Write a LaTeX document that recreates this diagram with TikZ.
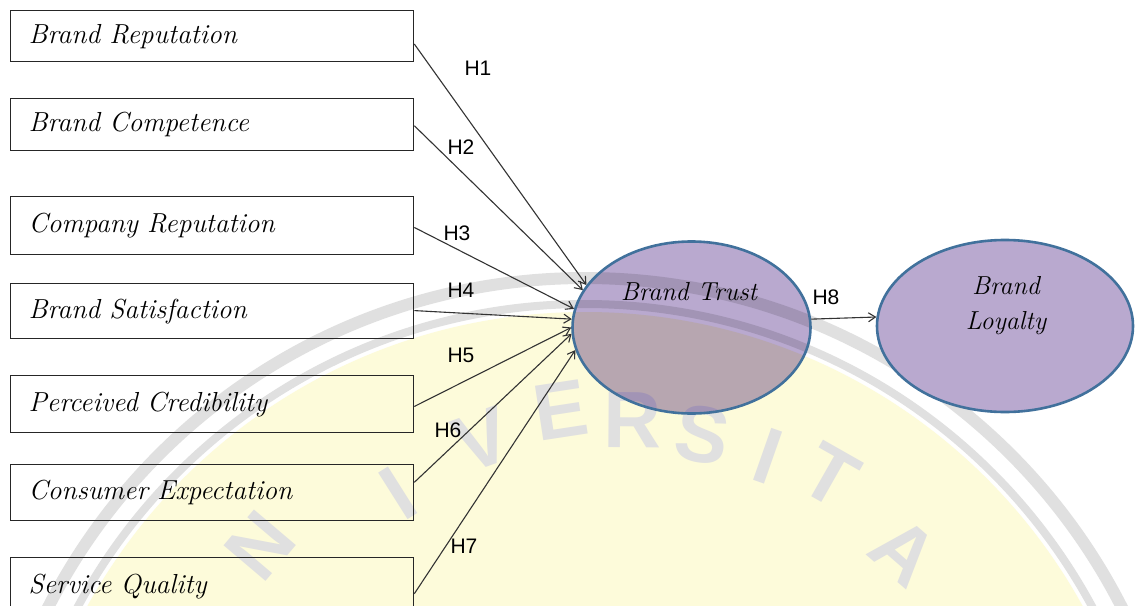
\documentclass[tikz,border=0pt]{standalone}
\usepackage{fontspec}
\newfontfamily\labfont{Liberation Sans}
\usetikzlibrary{shapes.geometric,arrows.meta,calc}
\definecolor{ellfill}{HTML}{B9A9CF}
\definecolor{elldraw}{HTML}{41719C}
\definecolor{wmyellow}{HTML}{FDFBDA}
\definecolor{wmgray}{HTML}{E0E0E0}
\tikzset{
  varbox/.style={draw=black!85, line width=1.3pt, anchor=north west, minimum width=403pt,
    text width=367pt, inner xsep=18pt, inner ysep=0pt, align=left,
    font=\fontsize{27.5}{31}\selectfont\itshape},
  latent/.style={ellipse, draw=elldraw, line width=2.6pt, inner sep=0pt},
  lattext/.style={font=\fontsize{26}{35}\selectfont\itshape, inner sep=0pt, align=center},
  hyp/.style={font=\labfont\fontsize{21}{24}\selectfont, inner sep=0pt},
  hlink/.style={draw=black!80, line width=1.1pt, -{Straight Barb[length=7pt,width=9pt]}},
  wmletter/.style={font=\labfont\bfseries\fontsize{80}{80}\selectfont, text=wmgray, inner sep=0pt},
}
\begin{document}
\begin{tikzpicture}[x=1pt,y=-1pt]
\useasboundingbox (0,0) rectangle (1135,605);
\clip (0,0) rectangle (1135,605);
\fill[white] (0,0) rectangle (1135,605);

% watermark (background)
\fill[wmyellow] (585,880) circle[radius=568];
\draw[wmgray, line width=12pt] (585,880) circle[radius=602];
\draw[wmgray, line width=8pt] (585,880) circle[radius=576];
\node[wmletter, rotate=49.7] (wm1) at (260,546) {N};
\node[wmletter, rotate=32.3] (wm2) at (398,493) {I};
\node[wmletter, rotate=19.8] (wm3) at (482,440) {V};
\node[wmletter, rotate=8.7] (wm4) at (561,410) {E};
\node[wmletter, rotate=-0.4] (wm5) at (633,420) {R};
\node[wmletter, rotate=-9.6] (wm6) at (702,435) {S};
\node[wmletter, rotate=-19.3] (wm7) at (768,456) {I};
\node[wmletter, rotate=-29.6] (wm8) at (830,476) {T};
\node[wmletter, rotate=-41] (wm9) at (904,552) {A};

% boxes
\node[varbox, minimum height=51pt] (b1) at (10,10) {Brand Reputation};
\node[varbox, minimum height=52pt] (b2) at (10,98) {Brand Competence};
\node[varbox, minimum height=58pt] (b3) at (10,196) {Company Reputation};
\node[varbox, minimum height=55pt] (b4) at (10,283) {Brand Satisfaction};
\node[varbox, minimum height=57pt] (b5) at (10,375) {Perceived Credibility};
\node[varbox, minimum height=56pt] (b6) at (10,464) {Consumer Expectation};
\node[varbox, minimum height=58pt] (b7) at (10,557) {Service Quality};

% latent variables
\begin{scope}[blend mode=multiply]
  \fill[ellfill] (691.5,327.5) ellipse[x radius=119, y radius=86];
\end{scope}
\node[latent, minimum width=238pt, minimum height=172pt] (trust) at (691.5,327.5) {};
\node[latent, fill=ellfill, minimum width=256pt, minimum height=172pt] (loyalty) at (1005,326) {};
\node[lattext] (trustlbl) at (689,292) {Brand Trust};
\node[lattext] (loyaltylbl) at (1006,306) {Brand\\Loyalty};

% paths
\draw[hlink] ($(b1.north east)!0.65!(b1.south east)$) -- (trust.158);
\draw[hlink] ($(b2.north east)!0.52!(b2.south east)$) -- (trust.161);
\draw[hlink] ($(b3.north east)!0.53!(b3.south east)$) -- (trust.171);
\draw[hlink] ($(b4.north east)!0.49!(b4.south east)$) -- (trust.176);
\draw[hlink] ($(b5.north east)!0.54!(b5.south east)$) -- (trust.180);
\draw[hlink] ($(b6.north east)!0.32!(b6.south east)$) -- (trust.183);
\draw[hlink] ($(b7.north east)!0.62!(b7.south east)$) -- (trust.191);
\draw[hlink] (trust.4) -- (loyalty.176);

% hypothesis labels
\node[hyp] (h1) at (478,68) {H1};
\node[hyp] (h2) at (461,147) {H2};
\node[hyp] (h3) at (457,233) {H3};
\node[hyp] (h4) at (461,290) {H4};
\node[hyp] (h5) at (461,355) {H5};
\node[hyp] (h6) at (448,430) {H6};
\node[hyp] (h7) at (464,546) {H7};
\node[hyp] (h8) at (826,297) {H8};
\end{tikzpicture}
\end{document}
